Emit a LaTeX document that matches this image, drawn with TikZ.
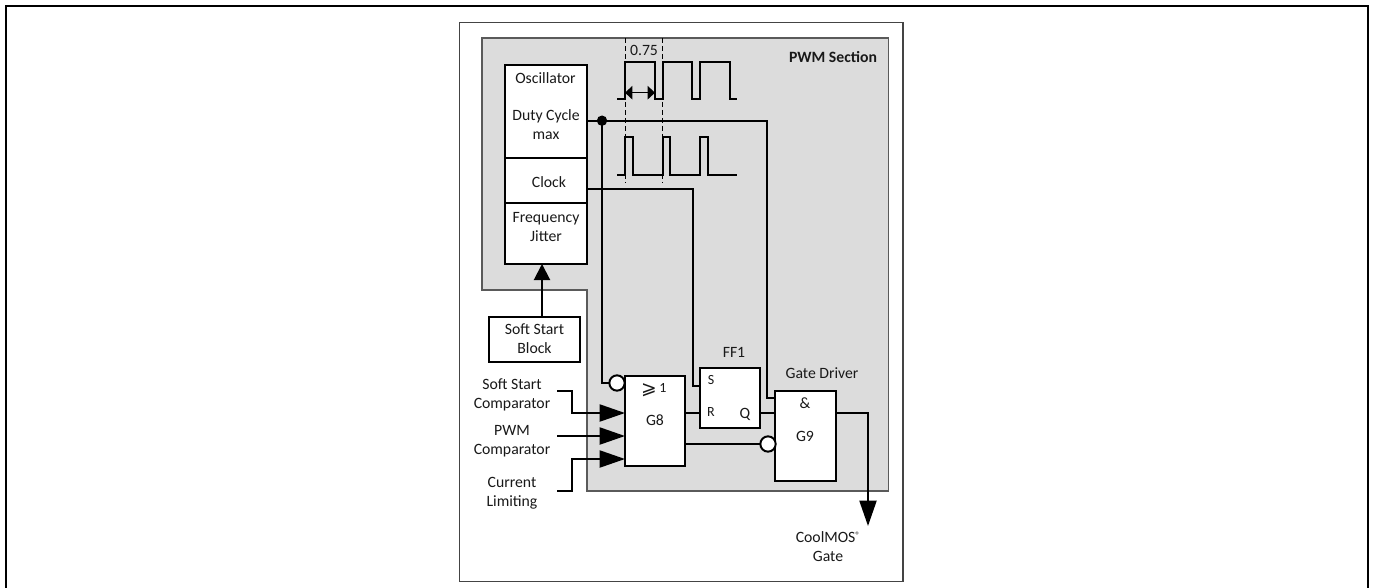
\documentclass[tikz,border=0pt]{standalone}
\usepackage{fontspec}
\setmainfont{Carlito}
\usetikzlibrary{arrows.meta}
\definecolor{secgray}{HTML}{DCDCDC}
\definecolor{framegray}{HTML}{444444}
\definecolor{secedge}{HTML}{5A5A5A}
\tikzset{
  x=0.75pt,y=-0.75pt,
  wire/.style={draw=black,line width=1.5pt},
  boxn/.style={draw=black,line width=1.5pt,fill=white,inner sep=0pt,outer sep=0pt},
  lab/.style={font=\fontsize{11.8pt}{14.25pt}\selectfont,align=center,inner sep=0pt,text=black!90},
  sm/.style={font=\fontsize{10.5pt}{12pt}\selectfont,align=center,inner sep=0pt,text=black!90},
  bign/.style={-{Triangle[length=19pt,width=12.75pt]}},
  midn/.style={-{Triangle[length=12pt,width=12pt]}},
  inv/.style={circle,draw=black,line width=1.5pt,fill=white,minimum size=11.5pt,inner sep=0pt,outer sep=0pt},
  wave/.style={line width=1.5pt},
  dashv/.style={line width=0.6pt,dash pattern=on 4pt off 2pt},
}
\newcommand{\bx}[5]{\node[boxn,minimum width=#4*0.75pt,minimum height=#5*0.75pt] (#1) at (#2,#3) {};}
\begin{document}
\begin{tikzpicture}
\useasboundingbox (0,0) rectangle (1375,588);
\fill[white] (0,0) rectangle (1375,588);
\draw[black,line width=1.5pt] (5.7,589) -- (5.7,5.7) -- (1368,5.7) -- (1368,589);
\draw[framegray,line width=0.8pt] (459.5,22.5) rectangle (903,581.5);
\draw[secedge,line width=1pt,fill=secgray] (482,38) -- (888.5,38) -- (888.5,491) -- (587,491) -- (587,290) -- (482,290) -- cycle;
% boxes
\bx{osc}{545.75}{111.5}{82.5}{93}
\bx{clk}{545.75}{180.5}{82.5}{45}
\bx{fj}{545.75}{233.5}{82.5}{61}
\bx{ss}{534.5}{339.5}{91}{45}
\bx{gviii}{655}{421}{60}{90}
\bx{ff}{730}{398}{60}{60}
\bx{gix}{805.25}{436}{60.5}{90}
% waveforms
\coordinate (ta) at (617,99);\coordinate (tz) at (737,99);
\draw[wave] (ta) -- (625,99) -- (625,62) -- (655,62) -- (655,99) -- (662.5,99) -- (662.5,62) -- (692,62) -- (692,99) -- (700,99) -- (700,62) -- (730,62) -- (730,99) -- (tz);
\coordinate (ba) at (617,175);\coordinate (bz) at (737,175);
\draw[wave] (ba) -- (625,175) -- (625,137) -- (633,137) -- (633,175) -- (662.5,175) -- (662.5,137) -- (670,137) -- (670,175) -- (700,175) -- (700,137) -- (707.5,137) -- (707.5,175) -- (bz);
\draw[dashv] (625,38) -- (625,183);
\draw[dashv] (662.5,38) -- (662.5,183);
\coordinate (da) at (625,92.7);\coordinate (db) at (655,92.7);
\draw[line width=1pt,{Triangle[length=5.5pt,width=10pt]}-{Triangle[length=5.5pt,width=10pt]}] (da) -- (db);
% wires
\coordinate (dutyout) at (osc.east |- 0,120.7);
\coordinate (clkout) at (clk.east |- 0,189);
\coordinate (dot) at (602,120.7);
\node[inv] (n1) at (617,383) {};
\node[inv] (n2) at (768,444) {};
\draw[wire] (dutyout) -- (767,120.7) -- (767,398) -- (gix.west |- 0,398);
\draw[wire] (dot) -- (602,383) -- (n1.west);
\fill (dot) circle (3.9pt);
\draw[wire] (clkout) -- (692.5,189) -- (692.5,386) -- (ff.west |- 0,386);
\draw[wire] (gviii.east |- 0,413) -- (ff.west |- 0,413);
\draw[wire] (ff.east |- 0,413) -- (gix.west |- 0,413);
\draw[wire] (gviii.east |- 0,444) -- (n2.west);
\draw[wire,midn] (ss.north -| 542,0) -- (fj.south -| 542,0);
% inputs
\coordinate (in1) at (557,391);\coordinate (in2) at (557,436);\coordinate (in3) at (557,491);
\draw[wire,bign] (in1) -- (572,391) -- (572,413) -- (gviii.west |- 0,413);
\draw[wire,bign] (in2) -- (gviii.west |- 0,436);
\draw[wire,bign] (in3) -- (572,491) -- (572,459) -- (gviii.west |- 0,459);
\coordinate (gout) at (868,526);
\draw[wire,bign] (gix.east |- 0,413) -- (868,413) -- (gout);
% labels
\node[lab] at (545.5,78) {Oscillator};
\node[lab] at (546,125) {Duty Cycle\\max};
\node[lab] at (549,182) {Clock};
\node[lab] at (546,227) {Frequency\\Jitter};
\node[lab] at (534.5,339) {Soft Start\\Block};
\node[lab] at (644,50) {0.75};
\node[lab,font=\fontsize{11.8pt}{14.25pt}\selectfont\bfseries] at (833,57) {PWM Section};
\node[lab] at (512,395) {Soft Start\\Comparator};
\node[lab] at (512,441) {PWM\\Comparator};
\node[lab] at (512,493) {Current\\Limiting};
\node[lab] at (734,352) {FF1};
\node[lab] at (822,373) {Gate Driver};
\node[lab] at (805,403) {\&};
\node[lab] at (805,436) {G9};
\node[lab] at (655,420) {G8};
\node[sm] at (711,380) {S};
\node[sm] at (711,412) {R};
\node[lab] at (745,414) {Q};
\node[lab] at (649,390) {\fontspec{DejaVu Sans}\fontsize{14pt}{14pt}\selectfont ⩾};
\node[sm] at (663,388) {1};
\node[lab] at (828,547) {CoolMOS\raisebox{3.5pt}{\fontsize{7pt}{7pt}\selectfont ®}\\Gate};
\end{tikzpicture}
\end{document}
